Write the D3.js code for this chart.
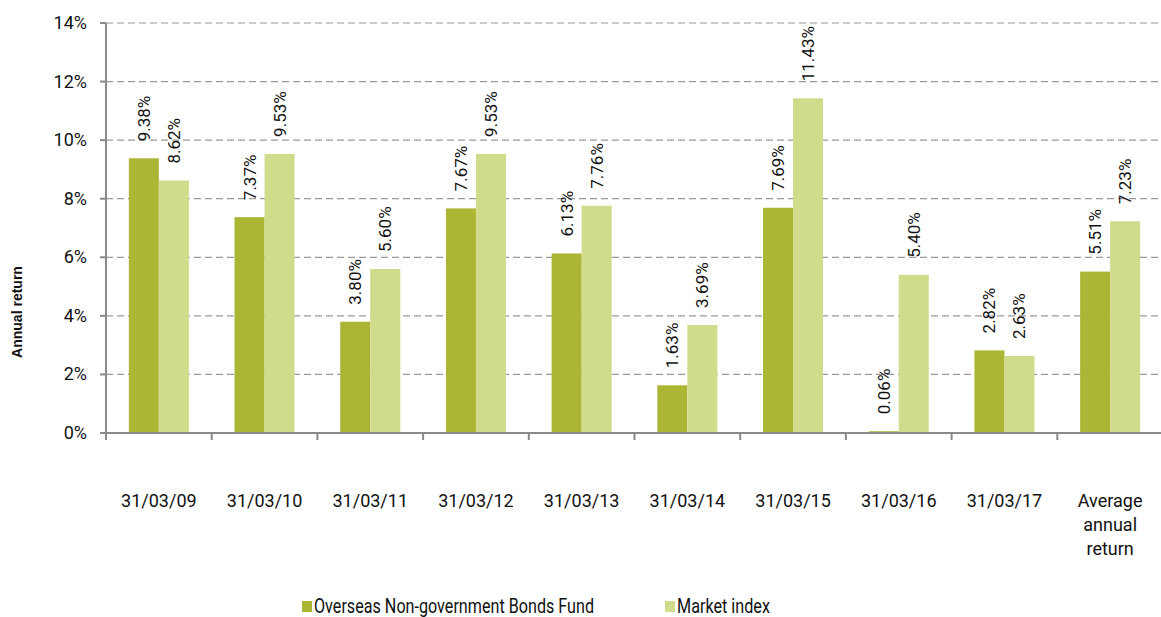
<!DOCTYPE html>
<html>
<head>
<meta charset="utf-8">
<script src="https://cdn.jsdelivr.net/npm/d3@7"></script>
<style>
  body { margin: 0; background: #fff; }
  svg { display: block; }
</style>
</head>
<body>
<svg id="chart"></svg>
<script>
// dữ liệu
const categories = ["31/03/09", "31/03/10", "31/03/11", "31/03/12", "31/03/13",
  "31/03/14", "31/03/15", "31/03/16", "31/03/17", "Average annual return"];
const fundValues = [9.38, 7.37, 3.80, 7.67, 6.13, 1.63, 7.69, 0.06, 2.82, 5.51];
const indexValues = [8.62, 9.53, 5.60, 9.53, 7.76, 3.69, 11.43, 5.40, 2.63, 7.23];
const seriesNames = ["Overseas Non-government Bonds Fund", "Market index"];
const yTicks = [0, 2, 4, 6, 8, 10, 12, 14];

const width = 1161, height = 617;
const margin = { top: 23, left: 106 };
const plotW = 1057, plotH = 410;

const svg = d3.select("#chart").attr("width", width).attr("height", height);
const g = svg.append("g").attr("transform", `translate(${margin.left},${margin.top})`);

const colors = ["#abb634", "#d0dc8c"];

const x = d3.scaleBand().domain(categories).range([0, plotW]).paddingInner(0.432).paddingOuter(0.216);
const x1 = d3.scaleBand().domain([0, 1]).range([0, x.bandwidth()]);
const y = d3.scaleLinear().domain([0, 14]).range([plotH, 0]);
const step = x.step();

// lưới ngang nét đứt
g.selectAll(".grid").data(yTicks.filter(t => t > 0)).join("line")
  .attr("x1", 0).attr("x2", plotW + 10)
  .attr("y1", d => y(d)).attr("y2", d => y(d))
  .attr("stroke", "#9a9a9a").attr("stroke-width", 1.2).attr("stroke-dasharray", "7,4");

// cột
const data = categories.map((c, i) => ({ cat: c, vals: [fundValues[i], indexValues[i]] }));
const groups = g.selectAll(".grp").data(data).join("g")
  .attr("transform", d => `translate(${x(d.cat)},0)`);

groups.selectAll("rect").data(d => d.vals).join("rect")
  .attr("x", (d, i) => x1(i))
  .attr("y", d => y(d))
  .attr("width", x1.bandwidth())
  .attr("height", d => plotH - y(d))
  .attr("fill", (d, i) => colors[i]);

// nhãn giá trị xoay dọc
groups.selectAll("text").data(d => d.vals).join("text")
  .attr("transform", (d, i) => `translate(${x1(i) + x1.bandwidth() / 2 + 6},${y(d) - 17}) rotate(-90)`)
  .attr("font-family", "Roboto, sans-serif")
  .attr("font-size", 17)
  .attr("fill", "#111")
  .text(d => d.toFixed(2) + "%");

// trục y
g.append("line").attr("x1", 0).attr("x2", 0).attr("y1", 0).attr("y2", plotH + 7)
  .attr("stroke", "#8a8a8a").attr("stroke-width", 2);
g.selectAll(".ytick").data(yTicks).join("line")
  .attr("x1", -6).attr("x2", 0).attr("y1", d => y(d)).attr("y2", d => y(d))
  .attr("stroke", "#8a8a8a").attr("stroke-width", 2);
g.selectAll(".ylab").data(yTicks).join("text")
  .attr("x", -19).attr("y", d => y(d) + 6)
  .attr("text-anchor", "end")
  .attr("font-family", "Roboto, sans-serif").attr("font-size", 18).attr("fill", "#111")
  .text(d => d + "%");

// trục x
g.append("line").attr("x1", 0).attr("x2", plotW + 10).attr("y1", plotH).attr("y2", plotH)
  .attr("stroke", "#8a8a8a").attr("stroke-width", 2);
g.selectAll(".xtick").data(categories).join("line")
  .attr("x1", d => x(d) - step * x.paddingInner() / 2 + step)
  .attr("x2", d => x(d) - step * x.paddingInner() / 2 + step)
  .attr("y1", plotH).attr("y2", plotH + 7)
  .attr("stroke", "#8a8a8a").attr("stroke-width", 2);

const xl = g.selectAll(".xlab").data(categories).join("text")
  .attr("text-anchor", "middle")
  .attr("font-family", "Roboto, sans-serif").attr("font-size", 18).attr("fill", "#111")
  .attr("transform", d => `translate(${x(d) + x.bandwidth() / 2},${plotH + 74})`);
xl.each(function (d) {
  const lines = d === "Average annual return" ? ["Average", "annual", "return"] : [d];
  d3.select(this).selectAll("tspan").data(lines).join("tspan")
    .attr("x", 0).attr("dy", (l, i) => i === 0 ? 0 : 24).text(l => l);
});

// tiêu đề trục y
svg.append("text")
  .attr("transform", `translate(22,312) rotate(-90)`)
  .attr("text-anchor", "middle")
  .attr("font-family", "Liberation Sans, Arial, sans-serif")
  .attr("font-size", 14).attr("font-weight", "bold").attr("fill", "#111")
  .text("Annual return");

// chú thích
const legendX = [302, 665];
const legend = svg.selectAll(".leg").data(seriesNames).join("g")
  .attr("transform", (d, i) => `translate(${legendX[i]},601)`);
legend.append("rect").attr("width", 10).attr("height", 11).attr("fill", (d, i) => colors[i]);
legend.append("text").attr("x", 12).attr("y", 12)
  .attr("font-family", "Roboto, sans-serif").attr("font-size", 21).attr("fill", "#111")
  .attr("textLength", (d, i) => i === 0 ? 280 : 93)
  .attr("lengthAdjust", "spacingAndGlyphs")
  .text(d => d);
</script>
</body>
</html>
